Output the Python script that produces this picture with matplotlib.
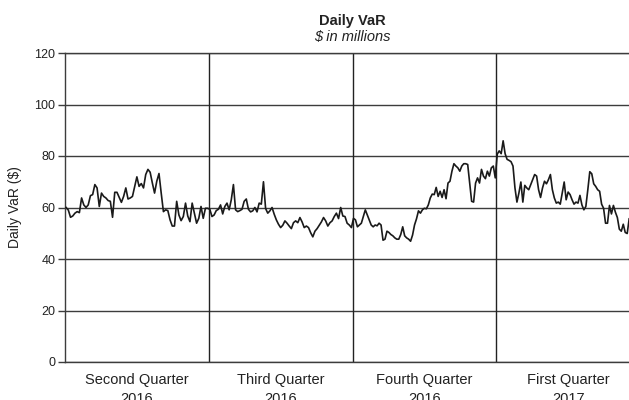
import numpy as np
import matplotlib
matplotlib.use("Agg")
import matplotlib.pyplot as plt

# Daily VaR readings ($ millions), one list per quarter
q2_2016 = [60, 59, 56.2, 56.7, 57.8, 58.4, 58, 63.7, 61, 60, 61, 64.6, 65, 68.9, 67.6,
           60.4, 65.6, 64.3, 63.7, 62.7, 62.4, 56.2, 65.9, 65.9, 64, 62, 64.3, 67.6, 63.3,
           63.7, 64.3, 68.2, 71.9, 68.2, 69.3, 67.6, 72.8, 74.8, 73.7, 69.5,
           65.6, 70.2, 73.2, 65.6, 58.4, 59.1, 58.8, 55.2, 52.8, 52.8, 62.4, 57.1, 54.9,
           56.5, 61.7, 56.7, 54.5, 61.7, 57.8, 53.9, 55.8, 60.4, 55.8, 59.7, 59.7]
q3_2016 = [59.3, 56.5, 57.1, 58.8, 59.3, 61, 57.5, 60.4, 61.7, 59.1, 63, 68.9, 59.1, 58.4,
           58.8, 59.3, 62.4, 63.3,
           59.3, 58.3, 58.7, 60, 58.3, 61.7, 61.3, 70, 59.6, 57.8, 58.7, 60, 57.4, 55.2,
           53.5, 52.2, 53.1, 54.8, 53.9, 52.8, 51.8, 54.1, 54.8, 54.1, 56.1, 54.4, 52.2,
           52.8, 52.2, 50.2, 48.6, 50.8, 51.8, 53.1, 54.4, 56.1, 54.8, 52.8, 54.1, 54.8,
           56.5, 57.8, 55.7, 60, 56.7,
           56.5, 53.9, 53.2, 52.2]
q4_2016 = [55.8, 55.2, 52.5, 53.2, 53.9, 56.5, 59.1, 57.1, 55.2, 53.2, 52.5, 53.2, 52.9,
           53.9, 53.2, 47.3, 47.7, 50.8, 50.3, 49.5, 49, 48.2, 47.7, 47.7, 49.5, 52.5, 49,
           48.2, 47.7, 46.9, 49.3, 53.2, 55.6, 58.7, 57.8, 59.1, 59.7, 59.5, 61, 63.7, 65.2,
           65, 67.8,
           64.3, 66.3, 63.9, 66.9, 63.4, 69.5, 70.2, 74.1, 77, 76.1, 75.4, 74.1, 76.1, 77,
           77, 76.7, 69.5, 62.4, 62.1, 69.5, 71.5, 69.5, 74.8, 72.2, 71.2, 74.1, 72.2, 75.4,
           76.1, 71.5]
q1_2017 = [80.7, 82, 80.9, 85.9, 80.9, 78.7, 78.3, 77.8, 76.1, 67.6, 62.1, 65.6, 69.9,
           62.1, 68.6, 67.6, 66.9, 68.9, 70.8,
           72.8, 72.2, 66.9, 63.9, 67.6, 70.2, 69.2, 70.8, 72.8, 66.9, 63.7, 61.7, 62.1,
           61.3, 65.6, 69.9, 63, 66, 65, 63, 61.3, 62.1, 61.7, 64.7, 61, 59.1, 60.4, 66.9,
           73.9, 73.1, 69.2, 68.2, 66.9, 66.3, 61.3, 59.7, 53.9, 53.9, 60.8, 57.5, 60.8,
           58.2, 56.1, 51.6, 50.8, 53.5, 50.3, 49.9, 55.6]

quarters = [q2_2016, q3_2016, q4_2016, q1_2017]
# observations a full quarter holds (last quarter is shown only partly)
obs_per_quarter = [65, 67, 73, 73]
quarter_labels = ["Second Quarter\n2016", "Third Quarter\n2016",
                  "Fourth Quarter\n2016", "First Quarter\n2017"]

# x in quarter units
xs, ys = [], []
for q, (vals, n) in enumerate(zip(quarters, obs_per_quarter)):
    xs.extend(q + (np.arange(len(vals)) + 0.5) / n)
    ys.extend(vals)

plt.rcParams['font.family'] = ['Liberation Sans', 'DejaVu Sans']

fig = plt.figure(figsize=(6.29, 4.0), dpi=100)
# axes runs a little past the right edge of the picture, as in the source
ax = fig.add_axes([65 / 629, 38 / 400, 575 / 629, 309 / 400])

grid_c = '#3c3c3c'
ax.set_ylim(0, 120)
ax.set_xlim(0, 4)
ax.set_yticks(np.arange(0, 121, 20))
ax.yaxis.grid(True, color=grid_c, linewidth=1.0)
ax.set_axisbelow(True)

for q in range(1, len(quarters)):
    ax.axvline(q, color='#222222', linewidth=1.0, zorder=1)

ax.plot(xs, ys, color='#1a1a1a', linewidth=1.2, zorder=3)

ax.spines['right'].set_visible(False)
for side in ['top', 'bottom', 'left']:
    ax.spines[side].set_color(grid_c)
    ax.spines[side].set_linewidth(1.0)

ax.set_xticks(np.arange(len(quarters)) + 0.5)
ax.set_xticklabels(quarter_labels, fontsize=10.5, linespacing=1.4)
ax.tick_params(axis='x', length=0, pad=8, colors='#222222')
ax.tick_params(axis='y', length=5, width=1.0, color=grid_c, labelsize=9,
               labelcolor='#222222', pad=2)

ax.set_ylabel("Daily VaR ($)", fontsize=10, color='#222222', labelpad=9)

cx = (65 + 575 / 2) / 629
fig.text(cx, 1 - 21 / 400, "Daily VaR", ha='center', va='center',
         fontsize=10.5, fontweight='bold', color='#222222')
fig.text(cx, 1 - 37 / 400, "$ in millions", ha='center', va='center',
         fontsize=10.5, style='italic', color='#222222')

fig.savefig('out.png', dpi=100)
